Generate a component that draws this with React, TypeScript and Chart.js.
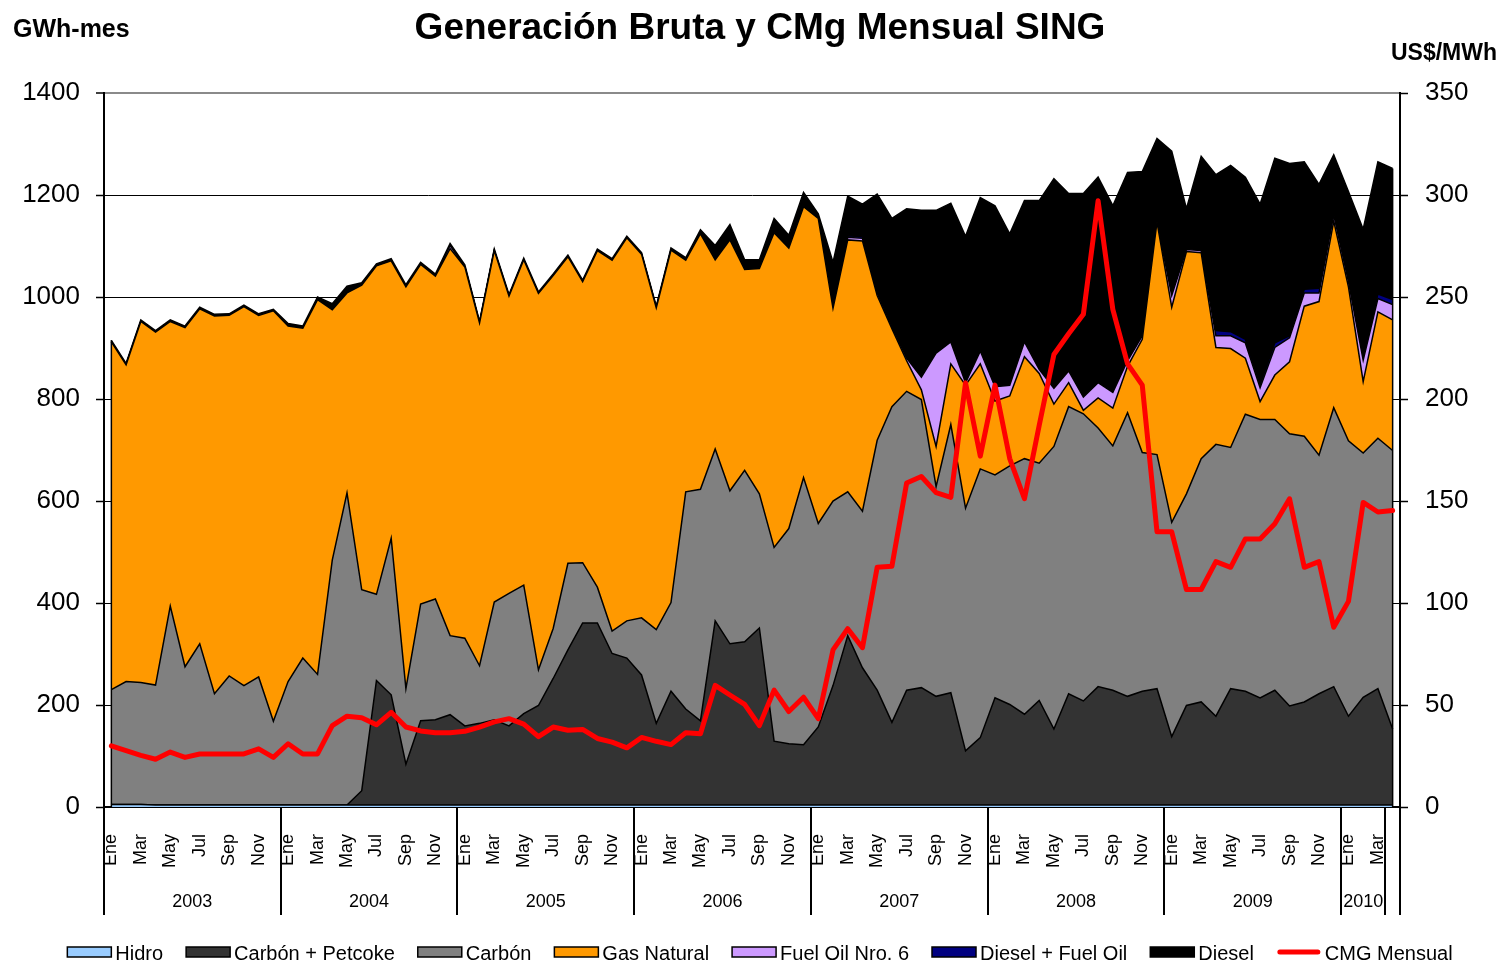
import React, { useEffect, useRef } from 'react';
import { Chart, registerables } from 'chart.js';

Chart.register(...registerables);

const FONT = "'Liberation Sans', Arial, Helvetica, sans-serif";

const monthNames = ['Ene', 'Feb', 'Mar', 'Abr', 'May', 'Jun', 'Jul', 'Ago', 'Sep', 'Oct', 'Nov', 'Dic'];
const years = ['2003', '2004', '2005', '2006', '2007', '2008', '2009', '2010'];
const categories = years.flatMap((y) => monthNames.map((m) => `${m} ${y}`)).slice(0, 88);

// year groups on the category axis (start index of each group, last entry = end)
const yearGroupLabels = ['2003', '2004', '2005', '2006', '2007', '2008', '2009', '2010', ''];
const yearGroupStarts = [0, 12, 24, 36, 48, 60, 72, 84, 87, 88];

const titleText = 'Generación Bruta y CMg Mensual SING';
const leftUnit = 'GWh-mes';
const rightUnit = 'US$/MWh';

// GWh per month
const hidro = [
  5, 5, 5, 4, 4, 4, 4, 4, 4, 4, 4, 4,
  4, 4, 4, 4, 4, 4, 4, 4, 4, 4, 4, 4,
  4, 4, 4, 4, 4, 4, 4, 4, 4, 4, 4, 4,
  4, 4, 4, 4, 4, 4, 4, 4, 4, 4, 4, 4,
  4, 4, 4, 4, 4, 4, 4, 4, 4, 4, 4, 4,
  4, 4, 4, 4, 4, 4, 4, 4, 4, 4, 4, 4,
  4, 4, 4, 4, 4, 4, 4, 4, 4, 4, 4, 4,
  4, 4, 4, 4,
];
const carbonPetcoke = [
  0, 0, 0, 0, 0, 0, 0, 0, 0, 0, 0, 0,
  0, 0, 0, 0, 0, 28, 244, 216, 80, 165, 167, 177,
  155, 160, 167, 155, 179, 195, 248, 304, 357, 357, 297, 288,
  255, 160, 223, 188, 165, 361, 316, 320, 347, 125, 120, 118,
  153, 234, 332, 269, 225, 162, 225, 230, 213, 220, 106, 132,
  210, 197, 178, 205, 149, 218, 204, 232, 225, 213, 223, 228,
  134, 195, 202, 174, 228, 223, 210, 225, 194, 202, 218, 232,
  174, 211, 228, 149,
];
const carbon = [
  225, 241, 239, 235, 390, 271, 316, 218, 253, 234, 251, 164,
  242, 288, 256, 480, 612, 394, 169, 307, 148, 229, 237, 155,
  172, 113, 231, 260, 252, 70, 98, 170, 118, 70, 44, 73,
  112, 184, 174, 426, 454, 337, 300, 336, 263, 380, 422, 524,
  399, 362, 282, 307, 490, 619, 586, 565, 411, 526, 476, 527,
  437, 468, 501, 465, 554, 563, 563, 507, 479, 556, 468, 459,
  420, 415, 477, 533, 473, 543, 546, 531, 534, 521, 468, 547,
  540, 479, 491, 546,
];
const gasNatural = [
  682, 621, 708, 692, 558, 665, 657, 741, 707, 743, 709, 805,
  697, 647, 735, 491, 392, 597, 644, 544, 788, 666, 633, 759,
  728, 672, 689, 583, 638, 738, 692, 601, 551, 660, 727, 751,
  713, 631, 691, 454, 501, 371, 492, 394, 442, 617, 550, 531,
  598, 378, 494, 530, 284, 153, 60, 19, 79, 119, 241, 206,
  145, 137, 200, 176, 83, 47, 7, 59, 74, 91, 222, 456,
  422, 475, 404, 190, 194, 110, 35, 87, 141, 255, 301, 366,
  302, 140, 248, 256,
];
const fuelOil6 = [
  0, 0, 0, 0, 0, 0, 0, 0, 0, 0, 0, 0,
  0, 0, 0, 0, 0, 0, 0, 0, 0, 0, 0, 6,
  0, 0, 0, 0, 0, 0, 0, 0, 0, 0, 0, 0,
  0, 0, 0, 0, 0, 0, 0, 0, 0, 0, 0, 0,
  0, 0, 5, 5, 5, 4, 5, 25, 183, 43, 5, 25,
  28, 21, 29, 8, 31, 23, 26, 30, 31, 11, 7, 1,
  23, 4, 4, 23, 25, 30, 27, 54, 47, 26, 17, 12,
  10, 42, 26, 30,
];
const dieselFuelOil = [
  0, 0, 0, 0, 0, 0, 0, 0, 0, 0, 0, 0,
  0, 0, 0, 0, 0, 0, 0, 0, 0, 0, 0, 0,
  0, 0, 0, 0, 0, 0, 0, 0, 0, 0, 0, 0,
  0, 0, 0, 0, 0, 0, 0, 0, 0, 0, 0, 0,
  0, 0, 3, 3, 0, 0, 0, 0, 0, 0, 0, 0,
  0, 0, 0, 0, 0, 0, 0, 0, 0, 0, 0, 0,
  0, 0, 0, 10, 8, 7, 7, 9, 4, 7, 9, 3,
  3, 3, 9, 10,
];
const diesel = [
  3, 3, 3, 3, 3, 3, 3, 3, 3, 3, 3, 3,
  5, 4, 5, 12, 13, 5, 4, 4, 4, 4, 4, 4,
  4, 3, 3, 3, 3, 3, 3, 3, 3, 3, 3, 3,
  3, 3, 4, 5, 8, 28, 30, 19, 17, 28, 25, 28,
  9, 90, 78, 64, 194, 212, 293, 327, 280, 272, 287, 301,
  355, 297, 277, 331, 411, 348, 399, 403, 366, 369, 322, 163,
  283, 80, 185, 306, 326, 318, 353, 362, 338, 250, 204, 115,
  174, 254, 259, 257,
];
// US$/MWh
const cmgMensual = [
  30, 27.6, 25.3, 23.4, 26.9, 24.3, 26, 26, 26, 26, 28.5, 24.3,
  31, 26, 26, 39.9, 44.5, 43.8, 40.3, 46.4, 39.2, 37.3, 36.4, 36.4,
  37.1, 39.2, 41.7, 43.3, 40.6, 34.5, 39.2, 37.6, 38, 33.6, 31.8, 29,
  34.1, 32.2, 30.6, 36.4, 35.9, 59.6, 54.9, 50.3, 39.9, 57.3, 46.8, 53.8,
  43.3, 77, 87.4, 78.1, 117.5, 118, 158.8, 162, 154.1, 151.8, 207.9, 172,
  206.8, 170.8, 151.1, 187, 221.8, 232, 241.5, 297.2, 243.9, 217.2, 206.8, 134.9,
  134.9, 106.6, 106.6, 120.3, 117.5, 131.4, 131.4, 138.8, 151.1, 117.5, 120.3, 88.1,
  100.8, 149.3, 144.6, 145.3,
];

const leftMax = 1400;
const leftStep = 200;
const rightMax = 350;
const rightStep = 50;

const areaLabels = ['Hidro', 'Carbón + Petcoke', 'Carbón', 'Gas Natural', 'Fuel Oil Nro. 6', 'Diesel + Fuel Oil', 'Diesel'];
const areaColors = ['#99CCFF', '#333333', '#808080', '#FF9900', '#CC99FF', '#000080', '#000000'];
const areaData = [hidro, carbonPetcoke, carbon, gasNatural, fuelOil6, dieselFuelOil, diesel];
const lineLabel = 'CMG Mensual';
const lineColor = '#FF0000';

const decorPlugin = {
  id: 'decor',
  afterDatasetDraw(chart: any, args: any) {
    if (args.index !== 0) return;
    const top = chart.getDatasetMeta(areaData.length - 1).data;
    const yBase = chart.scales.y.getPixelForValue(0);
    const ctx = chart.ctx;
    ctx.save();
    ctx.strokeStyle = '#000';
    ctx.lineWidth = 1.5;
    [top[0], top[top.length - 1]].forEach((p: any) => {
      ctx.beginPath();
      ctx.moveTo(p.x, p.y);
      ctx.lineTo(p.x, yBase);
      ctx.stroke();
    });
    ctx.restore();
  },
  afterDraw(chart: any) {
    const ctx = chart.ctx;
    const xs = chart.scales.x;
    const area = chart.chartArea;
    const p0 = xs.getPixelForValue(0);
    const step = xs.getPixelForValue(1) - p0;
    const boundary = (k: number) => p0 + (k - 0.5) * step;

    ctx.save();
    // year separators
    ctx.strokeStyle = '#000';
    ctx.lineWidth = 2;
    yearGroupStarts.forEach((k) => {
      const x = Math.round(boundary(k));
      ctx.beginPath();
      ctx.moveTo(x, area.bottom);
      ctx.lineTo(x, 915);
      ctx.stroke();
    });
    // year labels
    ctx.fillStyle = '#000';
    ctx.font = `18px ${FONT}`;
    ctx.textAlign = 'center';
    ctx.textBaseline = 'alphabetic';
    yearGroupLabels.forEach((lab, i) => {
      if (!lab) return;
      const cx = (boundary(yearGroupStarts[i]) + boundary(yearGroupStarts[i + 1])) / 2;
      ctx.fillText(lab, cx, 907);
    });

    // title and units
    ctx.font = `bold 37px ${FONT}`;
    ctx.textAlign = 'center';
    ctx.fillText(titleText, 760, 39);
    ctx.font = `bold 25px ${FONT}`;
    ctx.textAlign = 'left';
    ctx.fillText(leftUnit, 13, 37);
    ctx.font = `bold 23px ${FONT}`;
    ctx.textAlign = 'right';
    ctx.fillText(rightUnit, 1497, 60);

    // legend
    ctx.font = `20px ${FONT}`;
    ctx.textAlign = 'left';
    const boxW = 44;
    const gap = 4;
    const itemGap = 23;
    const items = chart.data.datasets.map((d: any) => ({ label: d.label, color: d.backgroundColor, isLine: d.yAxisID === 'y1', stroke: d.borderColor }));
    const widths = items.map((it: any) => boxW + gap + ctx.measureText(it.label).width);
    const total = widths.reduce((a: number, b: number) => a + b, 0) + itemGap * (items.length - 1);
    let x = 760 - total / 2;
    items.forEach((it: any, i: number) => {
      if (it.isLine) {
        ctx.strokeStyle = it.stroke;
        ctx.lineWidth = 5;
        ctx.lineCap = 'round';
        ctx.beginPath();
        ctx.moveTo(x + 3, 952);
        ctx.lineTo(x + boxW - 3, 952);
        ctx.stroke();
      } else {
        ctx.fillStyle = it.color;
        ctx.fillRect(x, 947, boxW, 10);
        ctx.strokeStyle = '#000';
        ctx.lineWidth = 1.5;
        ctx.lineCap = 'butt';
        ctx.strokeRect(x, 947, boxW, 10);
      }
      ctx.fillStyle = '#000';
      ctx.fillText(it.label, x + boxW + gap, 960);
      x += widths[i] + itemGap;
    });
    ctx.restore();
  },
};

export default function App() {
  const canvasRef = useRef<HTMLCanvasElement | null>(null);

  useEffect(() => {
    const canvas = canvasRef.current;
    if (!canvas) return;

    const datasets: any[] = areaData.map((data, i) => ({
      type: 'line',
      label: areaLabels[i],
      data,
      yAxisID: 'y',
      backgroundColor: areaColors[i],
      borderColor: '#000000',
      borderWidth: 1.5,
      fill: 'origin',
      pointRadius: 0,
      pointHoverRadius: 0,
      tension: 0,
      order: 1,
    }));
    datasets.push({
      type: 'line',
      label: lineLabel,
      data: cmgMensual,
      yAxisID: 'y1',
      borderColor: lineColor,
      backgroundColor: lineColor,
      borderWidth: 5,
      borderJoinStyle: 'round',
      borderCapStyle: 'round',
      fill: false,
      pointRadius: 0,
      pointHoverRadius: 0,
      tension: 0,
      order: 0,
    });

    const chart = new Chart(canvas, {
      type: 'line',
      data: { labels: categories, datasets },
      options: {
        animation: false,
        responsive: false,
        devicePixelRatio: 1,
        events: [],
        layout: { padding: { top: 93, left: 0, right: 0, bottom: 0 } },
        plugins: {
          legend: { display: false },
          title: { display: false },
          tooltip: { enabled: false },
        },
        scales: {
          x: {
            type: 'category',
            offset: true,
            grid: { display: false },
            border: { display: true, color: '#000', width: 2 },
            ticks: {
              autoSkip: false,
              minRotation: 90,
              maxRotation: 90,
              padding: 19,
              color: '#000',
              font: { family: FONT, size: 18 },
              callback: (_v: any, i: number) => (i % 2 === 0 ? monthNames[i % 12] : ''),
            },
            afterFit: (s: any) => {
              s.height = 156;
            },
          },
          y: {
            position: 'left',
            stacked: true,
            min: 0,
            max: leftMax,
            ticks: {
              stepSize: leftStep,
              padding: 16,
              color: '#000',
              font: { family: FONT, size: 26 },
              callback: (v: any) => String(v),
            },
            grid: {
              color: (c: any) => (c.tick && c.tick.value === leftMax ? '#8a8a8a' : '#000'),
              lineWidth: (c: any) => (c.tick && c.tick.value === leftMax ? 2 : 1),
              tickLength: 8,
              tickColor: '#000',
              tickWidth: 1.5,
            },
            border: { display: true, color: '#000', width: 2 },
            afterFit: (s: any) => {
              s.width = 104;
            },
          },
          y1: {
            position: 'right',
            min: 0,
            max: rightMax,
            ticks: {
              stepSize: rightStep,
              padding: 17,
              color: '#000',
              font: { family: FONT, size: 26 },
              callback: (v: any) => String(v),
            },
            grid: { drawOnChartArea: false, tickLength: 8, color: '#000', tickWidth: 1.5 },
            border: { display: true, color: '#000', width: 2 },
            afterFit: (s: any) => {
              s.width = 101;
            },
          },
        },
      } as any,
      plugins: [decorPlugin],
    });

    return () => chart.destroy();
  }, []);

  return (
    <div style={{ position: 'absolute', left: 0, top: 0, width: 1501, height: 963, background: '#fff' }}>
      <canvas ref={canvasRef} width={1501} height={963} style={{ display: 'block', width: 1501, height: 963 }} />
    </div>
  );
}
